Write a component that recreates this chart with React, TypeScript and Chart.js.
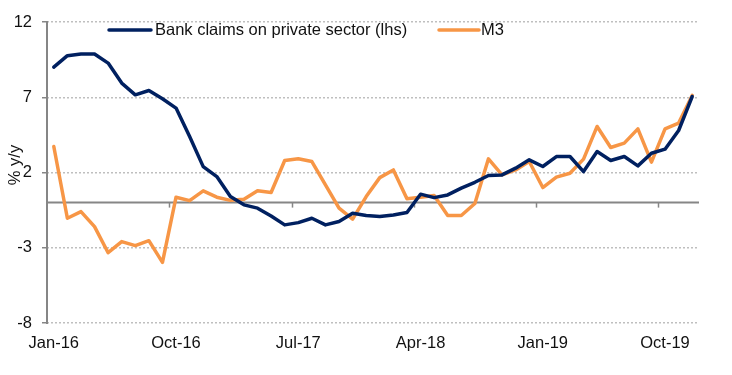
import React, { useEffect, useRef } from "react";
import { Chart, registerables } from "chart.js";

Chart.register(...registerables);

const months = [
  "Jan-16","Feb-16","Mar-16","Apr-16","May-16","Jun-16","Jul-16","Aug-16","Sep-16","Oct-16","Nov-16","Dec-16",
  "Jan-17","Feb-17","Mar-17","Apr-17","May-17","Jun-17","Jul-17","Aug-17","Sep-17","Oct-17","Nov-17","Dec-17",
  "Jan-18","Feb-18","Mar-18","Apr-18","May-18","Jun-18","Jul-18","Aug-18","Sep-18","Oct-18","Nov-18","Dec-18",
  "Jan-19","Feb-19","Mar-19","Apr-19","May-19","Jun-19","Jul-19","Aug-19","Sep-19","Oct-19","Nov-19","Dec-19",
];

const xTickLabels = ["Jan-16", "Oct-16", "Jul-17", "Apr-18", "Jan-19", "Oct-19"];
const yTicks = [-8, -3, 2, 7, 12];

const bankClaims = [
  9.0, 9.76, 9.87, 9.87, 9.27, 7.94, 7.16, 7.45, 6.9, 6.28, 4.39, 2.39,
  1.73, 0.4, -0.15, -0.37, -0.89, -1.48, -1.33, -1.04, -1.48, -1.26, -0.71, -0.86,
  -0.93, -0.82, -0.66, 0.56, 0.33, 0.51, 0.96, 1.35, 1.8, 1.84, 2.29, 2.84,
  2.4, 3.06, 3.06, 2.06, 3.39, 2.8, 3.06, 2.44, 3.28, 3.55, 4.79, 7.05,
];

const m3 = [
  3.73, -1.04, -0.6, -1.6, -3.33, -2.59, -2.86, -2.53, -3.97, 0.36, 0.13, 0.78,
  0.36, 0.15, 0.22, 0.78, 0.67, 2.8, 2.91, 2.73, 1.18, -0.37, -1.1, 0.4,
  1.66, 2.17, 0.25, 0.36, 0.47, -0.86, -0.86, -0.06, 2.91, 1.84, 2.17, 2.73,
  1.0, 1.69, 1.95, 2.89, 5.06, 3.66, 3.95, 4.9, 2.69, 4.9, 5.28, 7.12,
];

const NAVY = "#002060";
const ORANGE = "#F79646";
const AXIS = "#868686";
const GRID = "#BFBFBF";
const TEXT = "#111111";
const FONT = "Liberation Sans, Arial, sans-serif";
const FSIZE = 16.5;

const decorPlugin = {
  id: "decor",
  beforeDatasetsDraw(chart: any) {
    const { ctx, chartArea, scales } = chart;
    const y0 = scales.y.getPixelForValue(0);
    ctx.save();
    ctx.strokeStyle = AXIS;
    ctx.lineWidth = 2;
    ctx.setLineDash([]);
    // y axis line
    ctx.beginPath();
    ctx.moveTo(chartArea.left, chartArea.top - 1);
    ctx.lineTo(chartArea.left, chartArea.bottom + 1);
    ctx.stroke();
    // zero line
    ctx.beginPath();
    ctx.moveTo(chartArea.left, y0);
    ctx.lineTo(chartArea.right, y0);
    ctx.stroke();
    const xs = scales.x;
    const half = (xs.getPixelForValue(1) - xs.getPixelForValue(0)) / 2;
    ctx.lineWidth = 1.5;
    for (let i = 9; i < months.length; i += 9) {
      const px = Math.round(xs.getPixelForValue(i) - half) + 0.5;
      ctx.beginPath();
      ctx.moveTo(px, y0);
      ctx.lineTo(px, y0 + 5);
      ctx.stroke();
    }
    ctx.restore();
  },
  afterDraw(chart: any) {
    const { ctx } = chart;
    ctx.save();
    ctx.fillStyle = TEXT;
    ctx.font = `${FSIZE}px ${FONT}`;
    ctx.translate(15, 165);
    ctx.rotate(-Math.PI / 2);
    ctx.textAlign = "center";
    ctx.textBaseline = "middle";
    ctx.fillText("% y/y", 0, 0);
    ctx.restore();

    ctx.save();
    ctx.lineWidth = 3.5;
    ctx.lineCap = "round";
    ctx.font = `${FSIZE}px ${FONT}`;
    ctx.textBaseline = "middle";
    ctx.fillStyle = TEXT;
    const ly = 30;
    ctx.strokeStyle = NAVY;
    ctx.beginPath();
    ctx.moveTo(109, ly);
    ctx.lineTo(151, ly);
    ctx.stroke();
    ctx.fillText("Bank claims on private sector (lhs)", 155, ly);
    ctx.strokeStyle = ORANGE;
    ctx.beginPath();
    ctx.moveTo(439, ly);
    ctx.lineTo(479, ly);
    ctx.stroke();
    ctx.fillText("M3", 481, ly);
    ctx.restore();
  },
};

export default function App() {
  const ref = useRef<HTMLCanvasElement>(null);

  useEffect(() => {
    document.body.style.margin = "0";
    const canvas = ref.current;
    if (!canvas) return;
    const chart = new Chart(canvas, {
      type: "line",
      data: {
        labels: months,
        datasets: [
          {
            label: "Bank claims on private sector (lhs)",
            data: bankClaims,
            borderColor: NAVY,
            backgroundColor: NAVY,
            borderWidth: 3.5,
            pointRadius: 0,
            tension: 0,
            borderJoinStyle: "round",
            borderCapStyle: "round",
          },
          {
            label: "M3",
            data: m3,
            borderColor: ORANGE,
            backgroundColor: ORANGE,
            borderWidth: 3.5,
            pointRadius: 0,
            tension: 0,
            borderJoinStyle: "round",
            borderCapStyle: "round",
          },
        ],
      },
      options: {
        responsive: false,
        animation: false,
        devicePixelRatio: 1,
        layout: { padding: { top: 22, right: 33, left: 0, bottom: 0 } },
        plugins: { legend: { display: false }, tooltip: { enabled: false } },
        scales: {
          x: {
            type: "category",
            offset: true,
            grid: { display: false, drawTicks: false, offset: true },
            border: { display: false },
            ticks: {
              autoSkip: false,
              maxRotation: 0,
              minRotation: 0,
              padding: 11,
              color: TEXT,
              font: { family: FONT, size: FSIZE },
              callback: (_v: any, i: number) =>
                xTickLabels.includes(months[i]) ? months[i] : null,
            },
            afterFit: (s: any) => {
              s.height = 52;
            },
          },
          y: {
            min: -8,
            max: 12,
            afterBuildTicks: (s: any) => {
              s.ticks = yTicks.map((v) => ({ value: v }));
            },
            grid: {
              color: GRID,
              lineWidth: 1.5,
              drawTicks: true,
              tickLength: 5,
              tickColor: AXIS,
              tickWidth: 1.5,
            },
            border: { display: false, color: AXIS, width: 2, dash: [2, 2] },
            ticks: {
              padding: 10,
              color: TEXT,
              font: { family: FONT, size: FSIZE },
            },
            afterFit: (s: any) => {
              s.width = 47;
            },
          },
        },
      },
      plugins: [decorPlugin],
    });
    return () => chart.destroy();
  }, []);

  return (
    <canvas
      ref={ref}
      width={732}
      height={375}
      style={{ display: "block", width: 732, height: 375 }}
    />
  );
}
